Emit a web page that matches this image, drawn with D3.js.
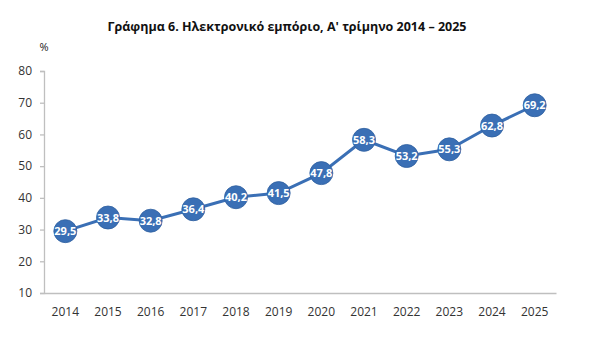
<!DOCTYPE html>
<html><head><meta charset="utf-8">
<script src="https://cdn.jsdelivr.net/npm/d3@7"></script>
<style>body{margin:0;background:#fff}svg{display:block}</style>
</head><body><svg id="c" width="591" height="339"></svg>
<script>
const years = ["2014","2015","2016","2017","2018","2019","2020","2021","2022","2023","2024","2025"];
const values = [29.5,33.8,32.8,36.4,40.2,41.5,47.8,58.3,53.2,55.3,62.8,69.2];
const yTicks = [10,20,30,40,50,60,70,80];
const title = "Γράφημα 6. Ηλεκτρονικό εμπόριο, Α' τρίμηνο 2014 – 2025";
const font = "Open Sans, sans-serif";

const svg = d3.select("#c");
const x = d3.scaleBand().domain(years).range([44, 556]);
const y = d3.scaleLinear().domain([10, 80]).range([293, 71]);

svg.append("text").attr("x", 287).attr("y", 31).attr("text-anchor","middle")
  .attr("font-family", font).attr("font-weight","bold").attr("font-size", 12.5)
  .attr("fill","#111").text(title);
svg.append("text").attr("x", 44).attr("y", 51).attr("text-anchor","middle")
  .attr("font-family", font).attr("font-size", 11).attr("fill","#222").text("%");

const ya = svg.append("g").attr("transform","translate(44,0)")
  .call(d3.axisLeft(y).tickValues(yTicks).tickSize(4).tickPadding(8).tickFormat(d3.format("d")));
const xa = svg.append("g").attr("transform","translate(0,293)")
  .call(d3.axisBottom(x).tickSize(0).tickPadding(14));
[ya, xa].forEach(a => {
  a.selectAll("path,line").attr("stroke","#bfbfbf").attr("stroke-width",1.3);
  a.selectAll("text").attr("font-family", font).attr("font-size", 12).attr("fill","#333");
});

const cx = d => x(d) + x.bandwidth()/2;
const pts = years.map((d,i) => [cx(d), y(values[i])]);
svg.append("path").attr("d", d3.line()(pts)).attr("fill","none")
  .attr("stroke","#3a6fb5").attr("stroke-width",3);
svg.selectAll("circle.m").data(pts).join("circle")
  .attr("cx", d => d[0]).attr("cy", d => d[1]).attr("r", 11.5)
  .attr("fill","#3a6fb5").attr("stroke","#2f5f9f").attr("stroke-width",0.8);
svg.selectAll("text.v").data(values).join("text")
  .attr("x", (d,i) => pts[i][0]).attr("y", (d,i) => pts[i][1] + 4)
  .attr("text-anchor","middle").attr("font-family", font).attr("font-weight","bold")
  .attr("font-size", 11).attr("fill","#fff")
  .text(d => d.toFixed(1).replace(".", ","));
</script></body></html>
